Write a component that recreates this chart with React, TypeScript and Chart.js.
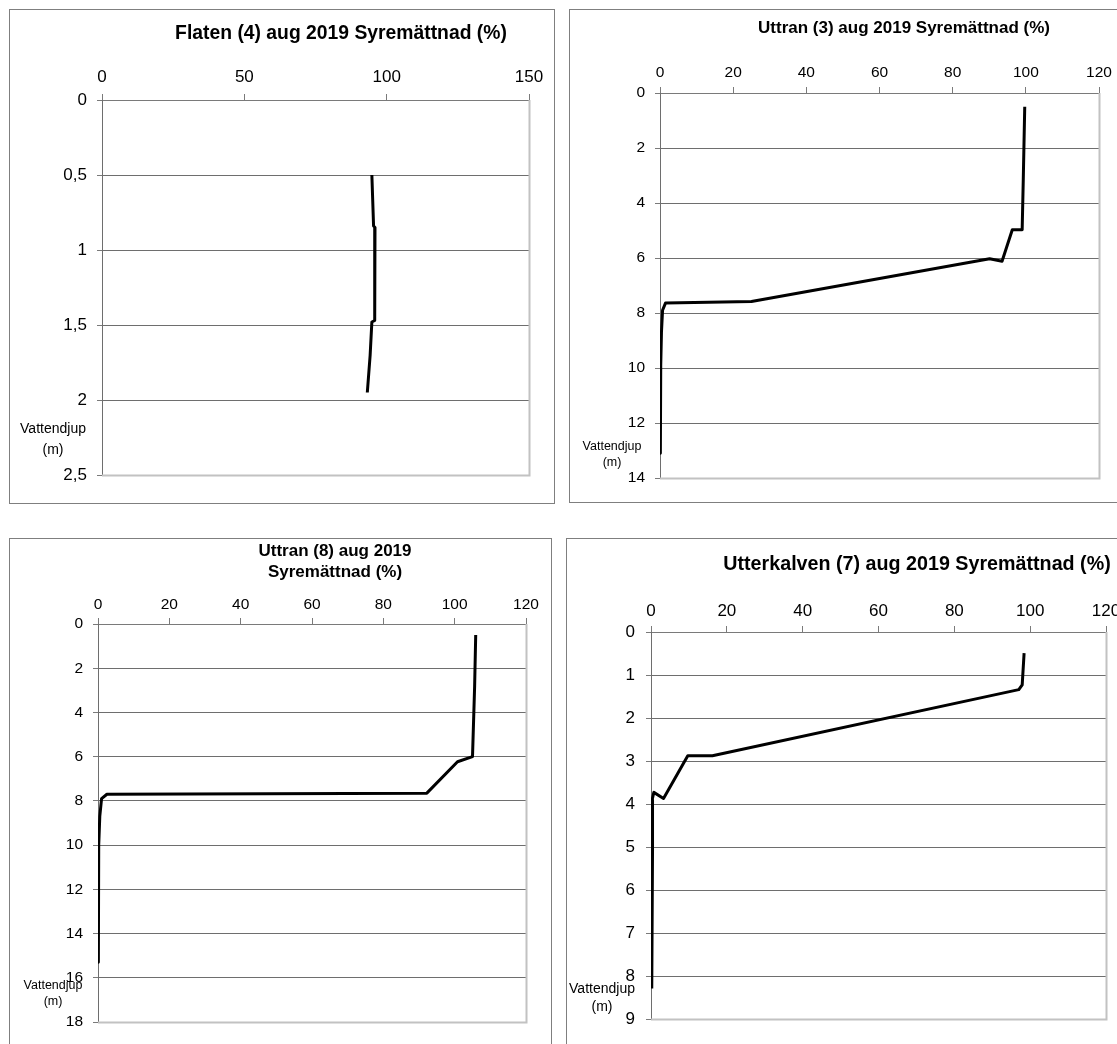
import React, { useEffect, useRef } from "react";
import { Chart, registerables } from "chart.js";

Chart.register(...registerables);

// ---------- Data ----------
// Flaten (4): depth (m) and oxygen saturation (%)
const flatenDepth = [0.5, 0.84, 0.85, 1.2, 1.47, 1.48, 1.7, 1.95];
const flatenSat = [94.8, 95.4, 95.9, 95.9, 95.7, 94.8, 94.2, 93.2];

// Uttran (3)
const uttran3Depth = [0.5, 3.15, 4.97, 4.97, 6.12, 6.03, 7.58, 7.64, 7.9, 8.7, 9.9, 13.1];
const uttran3Sat = [99.7, 99.3, 99.0, 96.3, 93.5, 90.1, 25.0, 1.5, 0.7, 0.4, 0.2, 0.1];

// Uttran (8)
const uttran8Depth = [0.5, 2.8, 6.0, 6.23, 7.65, 7.7, 7.9, 8.7, 10.0, 15.3];
const uttran8Sat = [105.9, 105.6, 105.0, 100.8, 92.2, 2.5, 1.0, 0.5, 0.2, 0.1];

// Utterkalven (7)
const utterkalvenDepth = [0.49, 1.23, 1.34, 2.88, 2.88, 3.87, 3.73, 3.9, 5.07, 8.29];
const utterkalvenSat = [98.4, 97.9, 97.0, 16.2, 9.7, 3.3, 0.75, 0.3, 0.4, 0.2];

// Axis ranges
const flatenXMax = 150;
const flatenXStep = 50;
const flatenYMax = 2.5;
const flatenYStep = 0.5;
const uttran3XMax = 120;
const uttran3YMax = 14;
const uttran8XMax = 120;
const uttran8YMax = 18;
const utterkalvenXMax = 120;
const utterkalvenYMax = 9;
const defaultXStep = 20;

// Titles / labels
const flatenTitle = ["Flaten (4) aug 2019 Syremättnad (%)"];
const uttran3Title = ["Uttran (3) aug 2019 Syremättnad (%)"];
const uttran8Title = ["Uttran (8) aug 2019", "Syremättnad (%)"];
const utterkalvenTitle = ["Utterkalven (7) aug 2019 Syremättnad (%)"];
const depthLabel = ["Vattendjup", "(m)"];

const ARIAL = '"Liberation Sans", Arial, sans-serif';

type PanelProps = {
  frame: { left: number; top: number; width: number; height: number };
  area: { L: number; T: number; R: number; B: number };
  depth: number[];
  sat: number[];
  xMax: number;
  xStep: number;
  yMax: number;
  yStep: number;
  title: string[];
  titleX: number;
  titleY: number;
  titleGap: number;
  titleFont: string;
  titleScaleX: number;
  tickSize: number;
  xPad: number;
  yPad: number;
  labelX: number;
  labelY: number;
  labelGap: number;
  labelFont: string;
  labelScaleX: number;
};

const decorPlugin = {
  id: "panelDecor",
  beforeDatasetsDraw(chart: any) {
    const { ctx, chartArea } = chart;
    const { left, right, top, bottom } = chartArea;
    ctx.save();
    ctx.strokeStyle = "#c2c2c2";
    ctx.lineWidth = 2;
    ctx.beginPath();
    ctx.moveTo(right + 0.5, top);
    ctx.lineTo(right + 0.5, bottom + 1.5);
    ctx.moveTo(left, bottom + 0.5);
    ctx.lineTo(right + 1.5, bottom + 0.5);
    ctx.stroke();
    ctx.restore();
  },
  afterDraw(chart: any, _args: any, opts: any) {
    const { ctx } = chart;
    const drawLines = (lines: string[], x: number, y: number, gap: number, font: string, sx: number) => {
      ctx.save();
      ctx.fillStyle = "#000";
      ctx.textAlign = "center";
      ctx.textBaseline = "middle";
      ctx.font = font;
      ctx.translate(x, y);
      ctx.scale(sx, 1);
      lines.forEach((line, i) => ctx.fillText(line, 0, i * gap));
      ctx.restore();
    };
    drawLines(opts.title, opts.titleX, opts.titleY, opts.titleGap, opts.titleFont, opts.titleScaleX);
    drawLines(opts.label, opts.labelX, opts.labelY, opts.labelGap, opts.labelFont, opts.labelScaleX);
  },
};

function Panel(p: PanelProps) {
  const ref = useRef<HTMLCanvasElement | null>(null);
  const cw = p.frame.width - 2;
  const ch = p.frame.height - 2;
  useEffect(() => {
    if (!ref.current) return;
    const xHeight = 40;
    const points = p.depth.map((d, i) => ({ x: p.sat[i], y: d }));
    const chart = new Chart(ref.current, {
      type: "line",
      data: {
        datasets: [
          {
            data: points,
            borderColor: "#000",
            borderWidth: 3,
            pointRadius: 0,
            fill: false,
            tension: 0,
            borderJoinStyle: "round",
          } as any,
        ],
      },
      options: {
        animation: false,
        responsive: false,
        devicePixelRatio: 1,
        layout: {
          padding: { left: 0, top: p.area.T - xHeight, right: p.area.R, bottom: p.area.B },
        },
        plugins: {
          legend: { display: false },
          tooltip: { enabled: false },
          title: { display: false },
          panelDecor: {
            title: p.title,
            titleX: p.titleX,
            titleY: p.titleY,
            titleGap: p.titleGap,
            titleFont: p.titleFont,
            titleScaleX: p.titleScaleX,
            label: depthLabel,
            labelX: p.labelX,
            labelY: p.labelY,
            labelGap: p.labelGap,
            labelFont: p.labelFont,
            labelScaleX: p.labelScaleX,
          },
        } as any,
        scales: {
          x: {
            type: "linear",
            position: "top",
            min: 0,
            max: p.xMax,
            afterFit: (s: any) => {
              s.height = xHeight;
            },
            ticks: {
              stepSize: p.xStep,
              autoSkip: false,
              maxRotation: 0,
              color: "#000",
              padding: p.xPad,
              font: { family: ARIAL, size: p.tickSize },
            },
            grid: {
              drawOnChartArea: false,
              drawTicks: true,
              tickLength: 6,
              tickColor: "#7a7a7a",
              color: "#7a7a7a",
            },
            border: { display: true, color: "#7a7a7a", width: 1 },
          },
          y: {
            type: "linear",
            reverse: true,
            min: 0,
            max: p.yMax,
            afterFit: (s: any) => {
              s.width = p.area.L;
            },
            ticks: {
              stepSize: p.yStep,
              autoSkip: false,
              color: "#000",
              padding: p.yPad,
              font: { family: ARIAL, size: p.tickSize },
              callback: (v: any) => String(v).replace(".", ","),
            },
            grid: {
              drawOnChartArea: true,
              drawTicks: true,
              tickLength: 5,
              tickColor: "#7a7a7a",
              color: (c: any) => (c.tick && c.tick.value === p.yMax ? "#c2c2c2" : "#6e6e6e"),
            },
            border: { display: true, color: "#6e6e6e", width: 1 },
          },
        },
      },
      plugins: [decorPlugin as any],
    });
    return () => chart.destroy();
  }, []);

  return (
    <div
      style={{
        position: "absolute",
        left: p.frame.left,
        top: p.frame.top,
        width: p.frame.width,
        height: p.frame.height,
        boxSizing: "border-box",
        border: "1px solid #7f7f7f",
        background: "#fff",
      }}
    >
      <canvas ref={ref} width={cw} height={ch} style={{ display: "block", width: cw, height: ch }} />
    </div>
  );
}

export default function App() {
  return (
    <div
      style={{
        position: "absolute",
        left: 0,
        top: 0,
        width: 1117,
        height: 1044,
        overflow: "hidden",
        background: "#fff",
      }}
    >
      <Panel
        frame={{ left: 9, top: 9, width: 546, height: 495 }}
        area={{ L: 92, T: 90, R: 25, B: 28 }}
        depth={flatenDepth}
        sat={flatenSat}
        xMax={flatenXMax}
        xStep={flatenXStep}
        yMax={flatenYMax}
        yStep={flatenYStep}
        title={flatenTitle}
        titleX={331}
        titleY={23}
        titleGap={22}
        titleFont={`bold 21px ${ARIAL}`}
        titleScaleX={0.92}
        tickSize={17}
        xPad={6}
        yPad={10}
        labelX={43}
        labelY={419}
        labelGap={21}
        labelFont={`14px ${ARIAL}`}
        labelScaleX={1}
      />
      <Panel
        frame={{ left: 569, top: 9, width: 560, height: 494 }}
        area={{ L: 90, T: 83, R: 29, B: 24 }}
        depth={uttran3Depth}
        sat={uttran3Sat}
        xMax={uttran3XMax}
        xStep={defaultXStep}
        yMax={uttran3YMax}
        yStep={2}
        title={uttran3Title}
        titleX={334}
        titleY={18}
        titleGap={21}
        titleFont={`bold 17px ${ARIAL}`}
        titleScaleX={1}
        tickSize={15.5}
        xPad={5}
        yPad={10}
        labelX={42}
        labelY={437}
        labelGap={16}
        labelFont={`12.5px ${ARIAL}`}
        labelScaleX={1}
      />
      <Panel
        frame={{ left: 9, top: 538, width: 543, height: 520 }}
        area={{ L: 88, T: 85, R: 25, B: 35 }}
        depth={uttran8Depth}
        sat={uttran8Sat}
        xMax={uttran8XMax}
        xStep={defaultXStep}
        yMax={uttran8YMax}
        yStep={2}
        title={uttran8Title}
        titleX={325}
        titleY={12}
        titleGap={21}
        titleFont={`bold 17px ${ARIAL}`}
        titleScaleX={1}
        tickSize={15.5}
        xPad={4}
        yPad={10}
        labelX={43}
        labelY={447}
        labelGap={16}
        labelFont={`12.5px ${ARIAL}`}
        labelScaleX={1}
      />
      <Panel
        frame={{ left: 566, top: 538, width: 560, height: 520 }}
        area={{ L: 84, T: 93, R: 19, B: 38 }}
        depth={utterkalvenDepth}
        sat={utterkalvenSat}
        xMax={utterkalvenXMax}
        xStep={defaultXStep}
        yMax={utterkalvenYMax}
        yStep={1}
        title={utterkalvenTitle}
        titleX={350}
        titleY={26}
        titleGap={21}
        titleFont={`bold 19.5px ${ARIAL}`}
        titleScaleX={1.01}
        tickSize={17}
        xPad={4}
        yPad={11}
        labelX={35}
        labelY={450}
        labelGap={18}
        labelFont={`14px ${ARIAL}`}
        labelScaleX={1}
      />
    </div>
  );
}
